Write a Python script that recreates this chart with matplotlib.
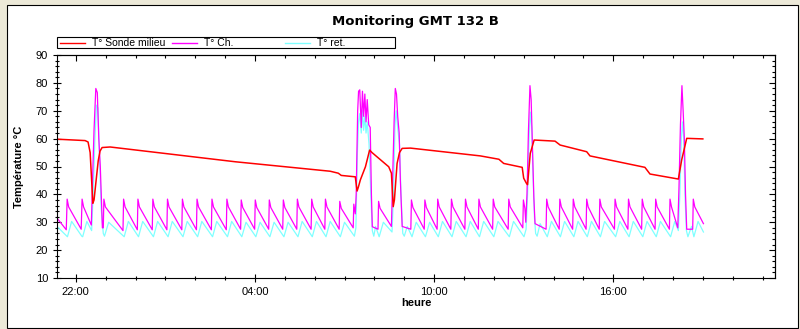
import matplotlib.pyplot as plt
import numpy as np
from matplotlib.lines import Line2D
from matplotlib.patches import Rectangle
from matplotlib.ticker import MultipleLocator, FixedLocator, FuncFormatter

plt.rcParams['font.family'] = ['Liberation Sans', 'DejaVu Sans']

# readings as (hour, temperature); hours above 24 belong to the next day
sonde_milieu = [
    (21.37, 59.8), (22.31, 59.3), (22.41, 58.8), (22.48, 55.0), (22.53, 45.0),
    (22.57, 36.8), (22.61, 38.0), (22.68, 45.0), (22.75, 52.0), (22.81, 55.5),
    (22.88, 56.8), (23.15, 57.0), (27.34, 51.7), (30.52, 48.3), (30.79, 47.6),
    (30.89, 46.8), (31.36, 46.3), (31.42, 41.2), (31.46, 42.5), (31.53, 45.2),
    (31.70, 49.9), (31.84, 55.9), (31.92, 55.0), (32.48, 49.9), (32.57, 47.6),
    (32.63, 35.6), (32.67, 38.0), (32.76, 51.1), (32.84, 55.0), (32.93, 56.5),
    (33.21, 56.6), (35.55, 53.8), (36.17, 52.6), (36.33, 51.1), (36.95, 49.7),
    (37.00, 45.8), (37.09, 44.0), (37.13, 43.5), (37.22, 54.7), (37.35, 59.5),
    (38.05, 59.1), (38.22, 57.7), (39.11, 55.3), (39.22, 53.8), (41.06, 49.7),
    (41.23, 47.3), (42.18, 45.5), (42.29, 52.3), (42.46, 60.1), (43.00, 59.9),
]

t_ch = [
    (21.37, 31.5), (21.68, 27.3), (21.71, 38.3), (21.76, 35.5),
    (22.18, 27.5), (22.21, 38.3), (22.26, 35.5),
    (22.52, 29.0), (22.56, 45.0), (22.61, 63.0), (22.67, 78.0), (22.72, 76.5),
    (22.77, 60.0), (22.82, 50.0), (22.89, 28.0),
    (22.92, 28.0), (22.94, 38.3), (22.99, 35.5),
    (23.58, 27.0), (23.60, 38.3), (23.65, 35.5),
    (24.06, 27.3), (24.08, 38.3), (24.13, 35.5),
    (24.56, 27.3), (24.58, 38.3), (24.63, 35.5),
    (25.05, 27.3), (25.07, 38.3), (25.12, 35.5),
    (25.55, 27.3), (25.57, 38.3), (25.62, 35.5),
    (26.04, 27.3), (26.06, 38.3), (26.11, 35.5),
    (26.54, 27.3), (26.56, 38.3), (26.61, 35.5),
    (27.04, 27.3), (27.06, 38.3), (27.11, 35.5),
    (27.52, 27.5), (27.54, 38.0), (27.59, 35.3),
    (27.99, 27.5), (28.01, 38.0), (28.06, 35.3),
    (28.46, 27.5), (28.48, 38.0), (28.53, 35.3),
    (28.93, 27.5), (28.95, 38.0), (29.00, 35.3),
    (29.40, 27.5), (29.42, 38.3), (29.47, 35.5),
    (29.88, 27.5), (29.90, 38.3), (29.95, 35.5),
    (30.34, 27.5), (30.36, 38.3), (30.41, 35.5),
    (30.82, 27.5), (30.84, 37.5), (30.89, 35.0),
    (31.29, 28.0), (31.31, 36.5), (31.36, 33.0),
    (31.39, 40.0), (31.44, 70.0), (31.47, 77.0), (31.51, 77.5), (31.56, 64.0),
    (31.60, 77.0), (31.64, 68.0), (31.68, 76.0), (31.72, 66.0), (31.76, 74.0),
    (31.81, 65.0), (31.86, 64.0), (31.90, 40.0), (31.93, 28.4),
    (32.12, 27.5), (32.14, 37.5), (32.19, 35.0),
    (32.57, 28.5), (32.61, 45.0), (32.66, 66.0), (32.70, 78.0), (32.74, 76.0),
    (32.78, 68.0), (32.83, 62.0), (32.87, 45.0), (32.93, 28.5),
    (33.22, 27.5), (33.24, 38.0), (33.29, 35.3),
    (33.67, 27.5), (33.69, 38.0), (33.74, 35.3),
    (34.10, 27.5), (34.12, 38.3), (34.17, 35.5),
    (34.56, 27.5), (34.58, 38.3), (34.63, 35.5),
    (35.03, 27.5), (35.05, 38.3), (35.10, 35.5),
    (35.48, 27.5), (35.50, 38.3), (35.55, 35.5),
    (35.96, 27.5), (35.98, 38.3), (36.03, 35.5),
    (36.48, 27.5), (36.50, 38.3), (36.55, 35.5),
    (36.97, 28.0), (36.99, 38.0), (37.04, 35.0),
    (37.07, 30.0), (37.11, 40.0), (37.16, 63.0), (37.21, 79.0), (37.25, 74.0),
    (37.30, 55.0), (37.34, 39.0), (37.38, 29.5),
    (37.75, 27.5), (37.77, 38.3), (37.82, 35.5),
    (38.19, 27.5), (38.21, 38.3), (38.26, 35.5),
    (38.64, 27.5), (38.66, 38.3), (38.71, 35.5),
    (39.09, 27.5), (39.11, 38.3), (39.16, 35.5),
    (39.53, 27.5), (39.55, 38.3), (39.60, 35.5),
    (40.04, 27.5), (40.06, 38.3), (40.11, 35.5),
    (40.49, 27.5), (40.51, 38.3), (40.56, 35.5),
    (40.95, 27.5), (40.97, 38.3), (41.02, 35.5),
    (41.40, 27.5), (41.42, 38.3), (41.47, 35.5),
    (41.88, 27.5), (41.90, 38.3), (41.95, 35.5),
    (42.16, 28.0), (42.20, 42.0), (42.25, 65.0), (42.30, 79.0), (42.34, 70.0),
    (42.38, 60.0), (42.42, 40.0), (42.46, 27.5),
    (42.66, 27.5), (42.68, 38.3), (42.73, 35.5), (43.02, 29.5),
]

t_ret = [
    (21.37, 28.5), (21.72, 24.8), (21.86, 30.3),
    (22.20, 25.0), (22.23, 24.8), (22.37, 30.3), (22.53, 27.0),
    (22.58, 40.0), (22.64, 60.0), (22.69, 72.0), (22.74, 71.0), (22.79, 55.0),
    (22.85, 35.0), (22.92, 26.0), (22.96, 25.0), (23.10, 30.0),
    (23.62, 24.8), (23.76, 30.3),
    (24.10, 24.8), (24.24, 30.3),
    (24.60, 24.8), (24.74, 30.3),
    (25.09, 24.8), (25.23, 30.3),
    (25.59, 24.8), (25.73, 30.3),
    (26.08, 24.8), (26.22, 30.3),
    (26.58, 24.8), (26.72, 30.3),
    (27.08, 24.8), (27.22, 30.3),
    (27.56, 24.8), (27.70, 30.0),
    (28.03, 24.8), (28.17, 30.0),
    (28.50, 24.8), (28.64, 30.0),
    (28.97, 24.8), (29.11, 30.0),
    (29.44, 24.8), (29.58, 30.3),
    (29.92, 24.8), (30.06, 30.3),
    (30.38, 24.8), (30.52, 30.3),
    (30.86, 24.8), (31.00, 30.0),
    (31.33, 25.0), (31.38, 28.0),
    (31.43, 55.0), (31.47, 66.0), (31.51, 69.0), (31.56, 62.0), (31.60, 70.0),
    (31.64, 63.0), (31.68, 68.0), (31.72, 62.0), (31.76, 66.0), (31.82, 58.0),
    (31.88, 40.0), (31.93, 27.0), (31.98, 25.0), (32.04, 28.5),
    (32.16, 24.8), (32.30, 30.0),
    (32.59, 26.5), (32.64, 40.0), (32.69, 65.0), (32.73, 70.0), (32.78, 64.0),
    (32.84, 58.0), (32.89, 40.0), (32.95, 26.0), (33.00, 25.0), (33.10, 28.5),
    (33.26, 24.8), (33.40, 30.0),
    (33.71, 24.8), (33.85, 30.0),
    (34.14, 24.8), (34.28, 30.3),
    (34.60, 24.8), (34.74, 30.3),
    (35.07, 24.8), (35.21, 30.3),
    (35.52, 24.8), (35.66, 30.3),
    (36.00, 24.8), (36.14, 30.3),
    (36.52, 24.8), (36.66, 30.3),
    (37.01, 24.8), (37.08, 27.5),
    (37.13, 40.0), (37.18, 60.0), (37.22, 69.5), (37.27, 64.0), (37.31, 48.0),
    (37.36, 32.0), (37.40, 26.0), (37.45, 25.0), (37.55, 29.5),
    (37.79, 24.8), (37.93, 30.3),
    (38.23, 24.8), (38.37, 30.3),
    (38.68, 24.8), (38.82, 30.3),
    (39.13, 24.8), (39.27, 30.3),
    (39.57, 24.8), (39.71, 30.3),
    (40.08, 24.8), (40.22, 30.3),
    (40.53, 24.8), (40.67, 30.3),
    (40.99, 24.8), (41.13, 30.3),
    (41.44, 24.8), (41.58, 30.3),
    (41.92, 24.8), (42.06, 30.3),
    (42.18, 27.0), (42.23, 40.0), (42.28, 60.0), (42.32, 66.0), (42.36, 60.0),
    (42.40, 40.0), (42.45, 27.0), (42.50, 24.8), (42.62, 28.5),
    (42.70, 24.8), (42.84, 30.3), (43.02, 26.5),
]

series_names = ['T° Sonde milieu', 'T° Ch.', 'T° ret.']
series_colors = ['#ff0000', '#ff00ff', '#7fffff']

W, H = 800, 329


def fx(px):
    return px / W


def fy(py):
    return 1 - py / H


def hhmm(h, pos=None):
    m = int(round(h * 60)) % (24 * 60)
    return f"{m // 60:02d}:{m % 60:02d}"


fig = plt.figure(figsize=(W / 100, H / 100), dpi=100, facecolor='#ece9d8')
fig.add_artist(Rectangle((fx(6.5), fy(328)), fx(798) - fx(6.5), fy(4.5) - fy(328),
                         transform=fig.transFigure, facecolor='white',
                         edgecolor='black', lw=0.8, zorder=0))

ax = fig.add_axes([fx(57), fy(278), fx(774.5) - fx(57), fy(55) - fy(278)])

ret = np.array(t_ret)
ch = np.array(t_ch)
milieu = np.array(sonde_milieu)
ax.plot(ret[:, 0], ret[:, 1], color=series_colors[2], lw=0.9)
ax.plot(ch[:, 0], ch[:, 1], color=series_colors[1], lw=0.9)
ax.plot(milieu[:, 0], milieu[:, 1], color=series_colors[0], lw=1.1)

ax.set_xlim(21.37, 45.40)
ax.set_ylim(10, 90)
ax.xaxis.set_major_locator(FixedLocator(np.arange(22, 46, 6)))
ax.xaxis.set_minor_locator(MultipleLocator(1))
ax.xaxis.set_major_formatter(FuncFormatter(hhmm))
ax.yaxis.set_major_locator(MultipleLocator(10))
ax.yaxis.set_minor_locator(MultipleLocator(2))

for s in ax.spines.values():
    s.set_linewidth(0.8)
ax.tick_params(which='major', direction='inout', length=6, width=0.8,
               labelsize=8, pad=3.5)
ax.tick_params(which='minor', direction='inout', length=3.5, width=0.8)

# ticks on top and right point inward, no labels
top = ax.secondary_xaxis('top')
top.xaxis.set_major_locator(FixedLocator(np.arange(22, 46, 6)))
top.xaxis.set_minor_locator(MultipleLocator(1))
top.tick_params(which='major', direction='in', length=4, width=0.8, labeltop=False)
top.tick_params(which='minor', direction='in', length=2.5, width=0.8)
right = ax.secondary_yaxis('right')
right.yaxis.set_major_locator(MultipleLocator(10))
right.yaxis.set_minor_locator(MultipleLocator(2))
right.tick_params(which='major', direction='in', length=4, width=0.8, labelright=False)
right.tick_params(which='minor', direction='in', length=2.5, width=0.8)

fig.text(fx(415.5), fy(21), 'Monitoring GMT 132 B', ha='center', va='center',
         fontsize=9.5, fontweight='bold', family='DejaVu Sans')
fig.text(fx(19), fy(166.5), 'Température °C', rotation=90, ha='center',
         va='center', fontsize=8, fontweight='bold')
fig.text(fx(416), fy(303), 'heure', ha='center', va='center', fontsize=8,
         fontweight='bold')

# legend strip above the plot
fig.add_artist(Rectangle((fx(57), fy(48)), fx(395) - fx(57), fy(37) - fy(48),
                         transform=fig.transFigure, facecolor='white',
                         edgecolor='black', lw=0.8))
for name, col, x0 in zip(series_names, series_colors, [60, 172, 285]):
    fig.add_artist(Line2D([fx(x0), fx(x0 + 25)], [fy(42.5), fy(42.5)],
                          transform=fig.transFigure, color=col, lw=1.0))
    fig.text(fx(x0 + 32), fy(42.5), name, ha='left', va='center', fontsize=7.5)

fig.savefig('out.png', dpi=100, facecolor=fig.get_facecolor())
